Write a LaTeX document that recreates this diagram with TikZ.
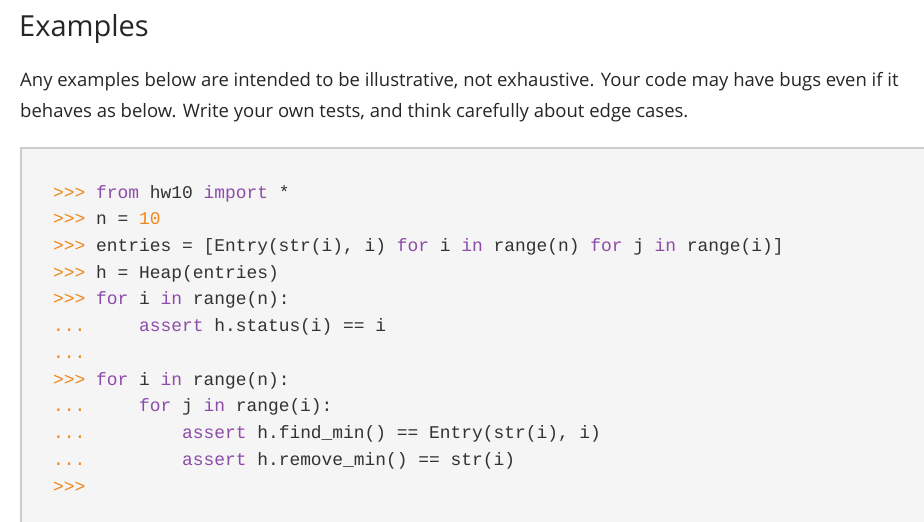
\documentclass[tikz,border=0pt]{standalone}
\usepackage{fontspec}
\setmainfont{Open Sans}
\newfontfamily\codefont{Liberation Mono}
\definecolor{pr}{HTML}{F0861A}
\definecolor{kw}{HTML}{8E4CAA}
\definecolor{tx}{HTML}{333333}
\definecolor{bg}{HTML}{F5F5F5}
\definecolor{bd}{HTML}{CCCCCC}
\newcommand\Pmt{\textcolor{pr}{>>>}}
\newcommand\Dts{\textcolor{pr}{...}}
\newcommand\Kw[1]{\textcolor{kw}{#1}}
\begin{document}
\begin{tikzpicture}[x=1pt,y=-1pt,
  code/.style={anchor=mid west,inner sep=0,font=\codefont\fontsize{17.9}{20}\selectfont,text=tx},
  para/.style={anchor=mid west,inner sep=0,font=\fontsize{18.5}{22}\selectfont,text=black!85}]
\useasboundingbox (0,0) rectangle (924,522);
\fill[white] (0,0) rectangle (924,522);
\node[anchor=mid west,inner sep=0,font=\fontsize{29}{34}\selectfont,text=black!85] (title) at (19,34) {Examples};
\node[para] (p1) at (20,84) {Any examples below are intended to be illustrative, not exhaustive. Your code may have bugs even if it};
\node[para] (p2) at (20,115) {behaves as below. Write your own tests, and think carefully about edge cases.};
\fill[bg] (20.75,147.75) rectangle (940,600);
\draw[bd,line width=1.5] (20.75,600) -- (20.75,147.75) -- (940,147.75);
\node[code] (l1) at (53,196) {\Pmt{} \Kw{from} hw10 \Kw{import} *};
\node[code] (l2) at (53,222) {\Pmt{} n = \textcolor{pr}{10}};
\node[code] (l3) at (53,249) {\Pmt{} entries = [Entry(str(i), i) \Kw{for} i \Kw{in} range(n) \Kw{for} j \Kw{in} range(i)]};
\node[code] (l4) at (53,276) {\Pmt{} h = Heap(entries)};
\node[code] (l5) at (53,302) {\Pmt{} \Kw{for} i \Kw{in} range(n):};
\node[code] (l6) at (53,329) {\Dts\ \ \ \ \ \Kw{assert} h.status(i) == i};
\node[code] (l7) at (53,356) {\Dts};
\node[code] (l8) at (53,383) {\Pmt{} \Kw{for} i \Kw{in} range(n):};
\node[code] (l9) at (53,409) {\Dts\ \ \ \ \ \Kw{for} j \Kw{in} range(i):};
\node[code] (l10) at (53,436) {\Dts\ \ \ \ \ \ \ \ \ \Kw{assert} h.find\_min() == Entry(str(i), i)};
\node[code] (l11) at (53,463) {\Dts\ \ \ \ \ \ \ \ \ \Kw{assert} h.remove\_min() == str(i)};
\node[code] (l12) at (53,490) {\Pmt};
\end{tikzpicture}
\end{document}
